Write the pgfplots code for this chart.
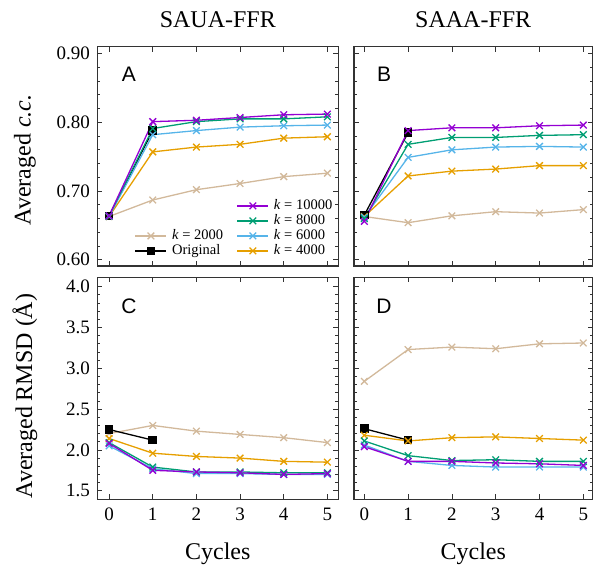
\documentclass[border=0pt]{standalone}
\usepackage{fontspec}
\setmainfont{Liberation Serif}
\newfontfamily\arial{Liberation Sans}
\usepackage{pgfplots}
\usepackage{pgfplotstable}
\pgfplotsset{compat=1.18}
\definecolor{cpurple}{HTML}{9400D3}
\definecolor{cgreen}{HTML}{009E73}
\definecolor{cblue}{HTML}{56B4E9}
\definecolor{corange}{HTML}{E69F00}
\definecolor{ctan}{HTML}{D2B99B}
\definecolor{axgray}{HTML}{333333}

% averaged c.c., SAUA-FFR
\pgfplotstableread{
x k2000 orig k4000 k6000 k8000 k10000
0 0.663 0.664 0.663 0.663 0.664 0.664
1 0.687 0.788 0.757 0.782 0.791 0.801
2 0.702 nan   0.764 0.788 0.801 0.803
3 0.711 nan   0.768 0.793 0.805 0.807
4 0.721 nan   0.777 0.795 0.805 0.811
5 0.726 nan   0.779 0.796 0.808 0.812
}\tabA
% averaged c.c., SAAA-FFR
\pgfplotstableread{
x k2000 orig k4000 k6000 k8000 k10000
0 0.663 0.665 0.663 0.662 0.660 0.656
1 0.654 0.785 0.722 0.749 0.768 0.788
2 0.664 nan   0.729 0.760 0.778 0.792
3 0.670 nan   0.732 0.764 0.778 0.792
4 0.668 nan   0.737 0.765 0.781 0.795
5 0.673 nan   0.737 0.764 0.782 0.796
}\tabB
% averaged RMSD, SAUA-FFR
\pgfplotstableread{
x k2000 orig k4000 k6000 k8000 k10000
0 2.20 2.25 2.14 2.05 2.09 2.08
1 2.30 2.12 1.96 1.77 1.79 1.75
2 2.23 nan  1.92 1.71 1.73 1.73
3 2.19 nan  1.90 1.71 1.73 1.72
4 2.15 nan  1.86 1.70 1.72 1.70
5 2.09 nan  1.85 1.70 1.72 1.71
}\tabC
% averaged RMSD, SAAA-FFR
\pgfplotstableread{
x k2000 orig k4000 k6000 k8000 k10000
0 2.84 2.26 2.18 2.06 2.11 2.04
1 3.23 2.12 2.11 1.86 1.93 1.86
2 3.26 nan  2.15 1.81 1.87 1.86
3 3.24 nan  2.16 1.79 1.88 1.84
4 3.30 nan  2.14 1.79 1.86 1.83
5 3.31 nan  2.12 1.79 1.86 1.81
}\tabD

\tikzset{letter/.style={font=\arial\fontsize{21}{24}\selectfont}}
\pgfplotsset{
 panel/.style={scale only axis,xtick={0,...,5},minor y tick num=4,
   tick align=inside,major tick length=5pt,minor tick length=3pt,
   axis line style={draw=axgray,line width=1.3pt},
   every tick/.style={draw=axgray,line width=0.8pt},
   tick label style={font=\fontsize{19}{22}\selectfont},
   /pgf/number format/assume math mode=true,
   xticklabel style={yshift=-5pt},yticklabel style={xshift=-4pt},
   label style={font=\fontsize{24}{28}\selectfont},
   title style={font=\fontsize{24}{27}\selectfont,at={(0.5,1.097)},anchor=center},
   legend image code/.code={\draw[mark repeat=2,mark phase=2]
     plot coordinates {(0pt,0pt) (15.5pt,0pt) (31pt,0pt)};}},
 lft/.style={width=241pt,xmin=-0.27,xmax=5.25},
 rgt/.style={width=238.5pt,xmin=-0.235,xmax=5.21,yticklabels={}},
 top/.style={height=219.3pt,ymin=0.591,ymax=0.910,ytick={0.6,0.7,0.8,0.9},xticklabels={},
   yticklabel style={/pgf/number format/.cd,fixed,fixed zerofill,precision=2,/tikz/.cd}},
 bot/.style={height=222pt,ymin=1.395,ymax=4.115,ytick={1.5,2,...,4},
   yticklabel style={/pgf/number format/.cd,fixed,fixed zerofill,precision=1,/tikz/.cd},
   xlabel={Cycles},xlabel style={at={(axis description cs:0.5,-0.245)},anchor=center}},
 s2000/.style={color=ctan,line width=1.3pt,mark=x,mark size=4.7pt,mark options={solid}},
 sorig/.style={color=black,line width=1.3pt,mark=square*,mark size=3.6pt},
 s4000/.style={s2000,color=corange},
 s6000/.style={s2000,color=cblue},
 s8000/.style={s2000,color=cgreen},
 s10000/.style={s2000,color=cpurple}
}

\begin{document}
\begin{tikzpicture}
\begin{axis}[panel,lft,top,at={(97.3pt,-46.7pt)},anchor=north west,
  title={SAUA-FFR},ylabel={Averaged \textit{c.c.}},
  ylabel style={at={(axis description cs:-0.300,0.483)},anchor=center},
  legend columns=2,legend cell align=left,
  legend style={at={(0.978,0.036)},anchor=south east,draw=none,fill=none,inner sep=0pt,
    font=\fontsize{14.5}{16}\selectfont,row sep=1pt,
    nodes={inner sep=0.5pt,text height=10pt,text depth=3pt,anchor=west},
    /tikz/every odd column/.append style={column sep=4.5pt},
    /tikz/every even column/.append style={column sep=13pt}}]
\addplot[s2000,forget plot] table[x=x,y=k2000]{\tabA};
\addplot[sorig,forget plot] table[x=x,y=orig]{\tabA};
\addplot[s4000,forget plot] table[x=x,y=k4000]{\tabA};
\addplot[s6000,forget plot] table[x=x,y=k6000]{\tabA};
\addplot[s8000,forget plot] table[x=x,y=k8000]{\tabA};
\addplot[s10000,forget plot] table[x=x,y=k10000]{\tabA};
\addlegendimage{empty legend}\addlegendentry{}
\addlegendimage{s10000}\addlegendentry{\textit{k} = 10000}
\addlegendimage{empty legend}\addlegendentry{}
\addlegendimage{s8000}\addlegendentry{\textit{k} = 8000}
\addlegendimage{s2000}\addlegendentry{\textit{k} = 2000}
\addlegendimage{s6000}\addlegendentry{\textit{k} = 6000}
\addlegendimage{sorig}\addlegendentry{Original}
\addlegendimage{s4000}\addlegendentry{\textit{k} = 4000}
\node[letter] at (rel axis cs:0.131,0.875) {A};
\end{axis}

\begin{axis}[panel,rgt,top,at={(354pt,-46.7pt)},anchor=north west,title={SAAA-FFR}]
\addplot[s2000] table[x=x,y=k2000]{\tabB};
\addplot[sorig] table[x=x,y=orig]{\tabB};
\addplot[s4000] table[x=x,y=k4000]{\tabB};
\addplot[s6000] table[x=x,y=k6000]{\tabB};
\addplot[s8000] table[x=x,y=k8000]{\tabB};
\addplot[s10000] table[x=x,y=k10000]{\tabB};
\node[letter] at (rel axis cs:0.126,0.875) {B};
\end{axis}

\begin{axis}[panel,lft,bot,at={(97.3pt,-277.3pt)},anchor=north west,
  ylabel={Averaged RMSD (Å)},
  ylabel style={at={(axis description cs:-0.300,0.465)},anchor=center}]
\addplot[s2000] table[x=x,y=k2000]{\tabC};
\addplot[sorig] table[x=x,y=orig]{\tabC};
\addplot[s4000] table[x=x,y=k4000]{\tabC};
\addplot[s6000] table[x=x,y=k6000]{\tabC};
\addplot[s8000] table[x=x,y=k8000]{\tabC};
\addplot[s10000] table[x=x,y=k10000]{\tabC};
\node[letter] at (rel axis cs:0.131,0.871) {C};
\end{axis}

\begin{axis}[panel,rgt,bot,at={(354pt,-277.3pt)},anchor=north west]
\addplot[s2000] table[x=x,y=k2000]{\tabD};
\addplot[sorig] table[x=x,y=orig]{\tabD};
\addplot[s4000] table[x=x,y=k4000]{\tabD};
\addplot[s6000] table[x=x,y=k6000]{\tabD};
\addplot[s8000] table[x=x,y=k8000]{\tabD};
\addplot[s10000] table[x=x,y=k10000]{\tabD};
\node[letter] at (rel axis cs:0.126,0.871) {D};
\end{axis}
\pgfresetboundingbox
\useasboundingbox (0pt,0pt) rectangle (593pt,-567pt);
\end{tikzpicture}
\end{document}
